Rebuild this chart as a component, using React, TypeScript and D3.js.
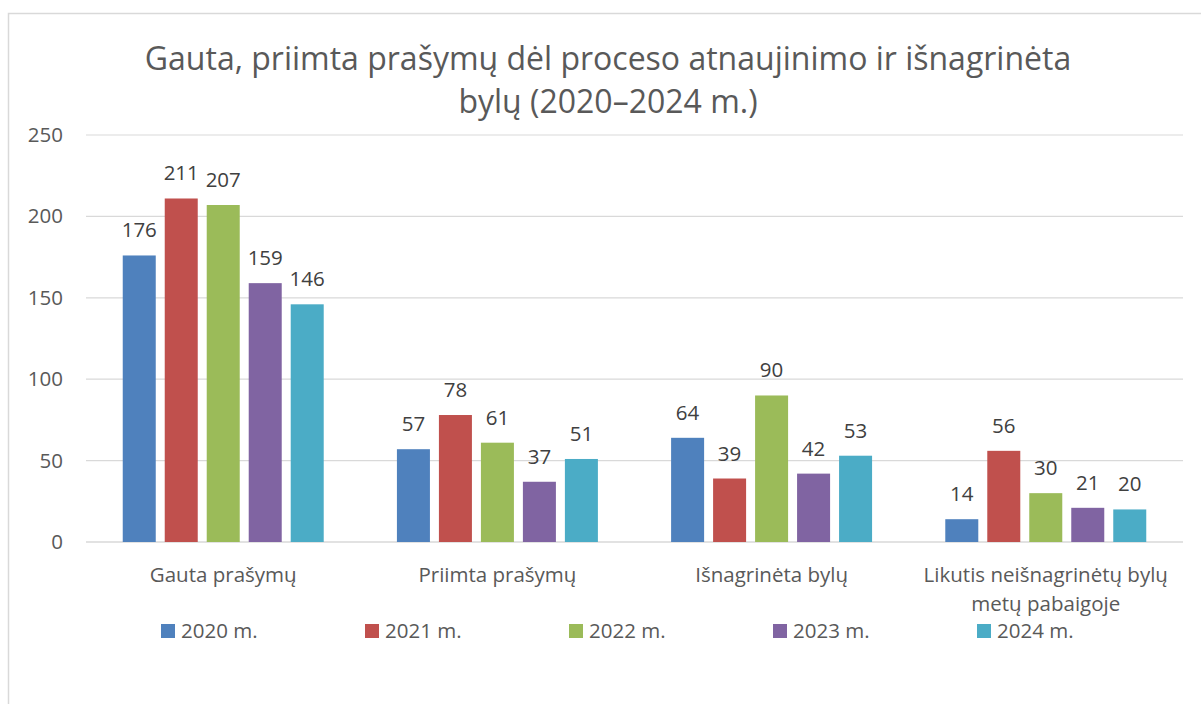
import React from "react";
import * as d3 from "d3";

const categories = ["Gauta prašymų", "Priimta prašymų", "Išnagrinėta bylų", "Likutis neišnagrinėtų bylų\nmetų pabaigoje"];
const seriesNames = ["2020 m.", "2021 m.", "2022 m.", "2023 m.", "2024 m."];
const v2020 = [176, 57, 64, 14];
const v2021 = [211, 78, 39, 56];
const v2022 = [207, 61, 90, 30];
const v2023 = [159, 37, 42, 21];
const v2024 = [146, 51, 53, 20];
const yTicks = [0, 50, 100, 150, 200, 250];
const colors = ["#4F81BD", "#C0504D", "#9BBB59", "#8064A2", "#4BACC6"];
const titleLines = ["Gauta, priimta prašymų dėl proceso atnaujinimo ir išnagrinėta", "bylų (2020–2024 m.)"];

const series = [v2020, v2021, v2022, v2023, v2024];

export default function App() {
  const W = 1201, H = 704;
  const left = 86, right = 1183, top = 135, bottom = 542;
  const FONT = "'Open Sans', 'Liberation Sans', sans-serif";
  const FS = 20.5;
  const x0 = d3.scaleBand().domain(categories).range([left, right]).paddingInner(0.267).paddingOuter(0.134);
  const x1 = d3.scaleBand().domain(seriesNames).range([0, x0.bandwidth()]).paddingInner(0.214);
  const y = d3.scaleLinear().domain([0, 250]).range([bottom, top]);
  const legendX = d3.scalePoint().domain(seriesNames).range([161, 977]);
  return (
    <svg width={W} height={H} style={{ position: "absolute", left: 0, top: 0, background: "#fff" }} fontFamily={FONT}>
      <rect x={0} y={0} width={W} height={H} fill="#fff" />
      <path d={`M8.5,${H} V13.5 H${W}`} fill="none" stroke="#D9D9D9" strokeWidth={1.5} />
      {titleLines.map((t, i) => (
        <text key={i} x={608} y={70 + i * 43} textAnchor="middle" fontSize={32} fill="#595959">{t}</text>
      ))}
      {yTicks.map((t) => (
        <g key={t}>
          <line x1={left} x2={right} y1={y(t)} y2={y(t)} stroke="#D9D9D9" strokeWidth={t === 0 ? 1.5 : 1.2} />
          <text x={63} y={y(t) + 7} textAnchor="end" fontSize={FS} fill="#595959">{t}</text>
        </g>
      ))}
      {categories.map((c, ci) => (
        <g key={c} transform={`translate(${x0(c)},0)`}>
          {series.map((s, si) => {
            const bx = x1(seriesNames[si])!;
            return (
              <g key={si}>
                <rect x={bx} y={y(s[ci])} width={x1.bandwidth()} height={bottom - y(s[ci])} fill={colors[si]} />
                <text x={bx + x1.bandwidth() / 2} y={y(s[ci]) - 18} textAnchor="middle" fontSize={FS} fill="#404040">{s[ci]}</text>
              </g>
            );
          })}
          {c.split("\n").map((line, li) => (
            <text key={li} x={x0.bandwidth() / 2} y={582 + li * 29} textAnchor="middle" fontSize={FS} fill="#595959">{line}</text>
          ))}
        </g>
      ))}
      {seriesNames.map((n, i) => (
        <g key={n}>
          <rect x={legendX(n)!} y={624} width={14} height={14} fill={colors[i]} />
          <text x={legendX(n)! + 20} y={638} fontSize={FS} fill="#595959">{n}</text>
        </g>
      ))}
    </svg>
  );
}
